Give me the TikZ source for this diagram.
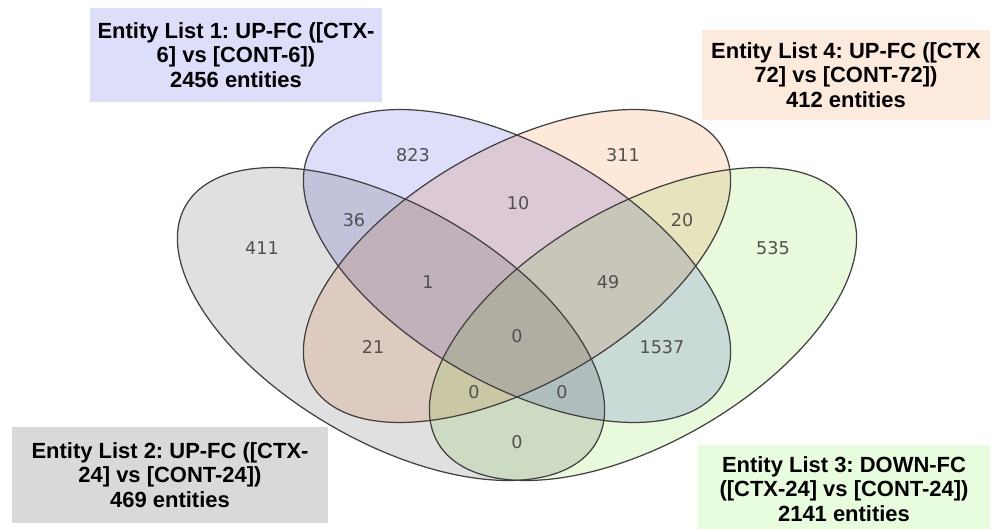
\documentclass[tikz,border=0pt]{standalone}
\usepackage{fontspec}
\setmainfont{Liberation Sans}
\newfontfamily\countfont{DejaVu Sans}
\usepackage{tikz}
\usepackage{xcolor}
\usetikzlibrary{positioning,calc}
\definecolor{SetGray}{RGB}{224,224,224}
\definecolor{SetBlue}{RGB}{221,223,250}
\definecolor{SetOrange}{RGB}{253,232,218}
\definecolor{SetGreen}{RGB}{233,250,220}
\definecolor{BoxBlue}{RGB}{221,222,250}
\definecolor{BoxGray}{RGB}{217,217,217}
\definecolor{BoxOrange}{RGB}{252,234,220}
\definecolor{BoxGreen}{RGB}{232,252,222}
\definecolor{CountText}{RGB}{80,80,80}
\frenchspacing

\begin{document}
\begin{tikzpicture}[x=0.02cm,y=-0.02cm,
    setfill/.style={fill=#1,draw=none},
    setline/.style={draw=black!75,line width=0.7pt},
    listbox/.style={fill=#1,font=\fontsize{12.5}{13.8}\selectfont\bfseries,
                    align=center,inner sep=0pt,text=black},
    count/.style={font=\countfont\fontsize{10}{12}\selectfont,text=CountText,inner sep=1pt}
  ]
  \useasboundingbox (0,0) rectangle (991,528);
  % the four sets: fills first, outlines on top
  \begin{scope}[blend group=multiply]
    \foreach \cx/\cy/\ang/\col in {391/324/-30/SetGray,643/324/30/SetGreen,
                                   517/266/30/SetOrange,517/266/-30/SetBlue}
      \fill[setfill=\col,rotate around={\ang:(\cx,\cy)}]
        (\cx,\cy) ellipse [x radius=237,y radius=118];
  \end{scope}
  \foreach \cx/\cy/\ang in {391/324/-30,643/324/30,517/266/30,517/266/-30}
    \draw[setline,rotate around={\ang:(\cx,\cy)}]
      (\cx,\cy) ellipse [x radius=237,y radius=118];
  % region counts
  \node[count] (cnt-g)    at (262,248) {411};
  \node[count] (cnt-b)    at (413,155) {823};
  \node[count] (cnt-o)    at (623,155) {311};
  \node[count] (cnt-r)    at (773,248) {535};
  \node[count] (cnt-gb)   at (354,220) {36};
  \node[count] (cnt-bo)   at (518,203) {10};
  \node[count] (cnt-or)   at (682,220) {20};
  \node[count] (cnt-gbo)  at (428,282) {1};
  \node[count] (cnt-bor)  at (608,282) {49};
  \node[count] (cnt-all)  at (517,336) {0};
  \node[count] (cnt-go)   at (373,347) {21};
  \node[count] (cnt-br)   at (662,347) {1537};
  \node[count] (cnt-gor)  at (474,392) {0};
  \node[count] (cnt-gbr)  at (562,392) {0};
  \node[count] (cnt-gr)   at (517,442) {0};
  % list labels
  \node[listbox=BoxBlue,minimum width=5.84cm,minimum height=1.88cm] (list1) at (236,55)
    {Entity List 1: UP-FC ([CTX-\\6] vs [CONT-6])\\2456 entities};
  \node[listbox=BoxOrange,minimum width=5.76cm,minimum height=1.8cm] (list4) at (846,75)
    {Entity List 4: UP-FC ([CTX\\72] vs [CONT-72])\\412 entities};
  \node[listbox=BoxGray,minimum width=6.32cm,minimum height=1.92cm] (list2) at (170,475)
    {Entity List 2: UP-FC ([CTX-\\24] vs [CONT-24])\\469 entities};
  \node[listbox=BoxGreen,minimum width=5.84cm,minimum height=1.76cm] (list3) at (844,489)
    {Entity List 3: DOWN-FC\\([CTX-24] vs [CONT-24])\\2141 entities};
\end{tikzpicture}
\end{document}
